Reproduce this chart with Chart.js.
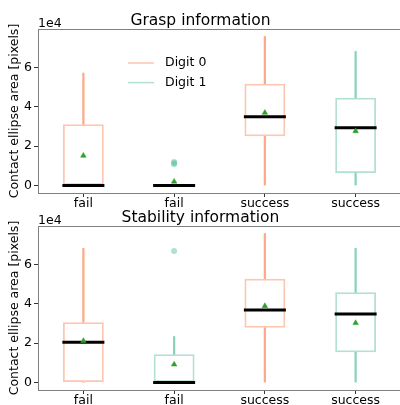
<!DOCTYPE html>
<html>
<head>
<meta charset="utf-8">
<script src="https://cdn.jsdelivr.net/npm/chart.js@4"></script>
<style>
  html, body { margin: 0; padding: 0; background: #fff; overflow: hidden; }
  #wrap { position: relative; width: 400px; height: 405px; overflow: hidden; }
  canvas { position: absolute; left: 0; }
  #grasp { top: 0; }
  #stability { top: 200px; }
</style>
</head>
<body>
<div id="wrap">
  <canvas id="grasp" width="410" height="210"></canvas>
  <canvas id="stability" width="410" height="205"></canvas>
</div>
<script>
const categories = ['fail', 'fail', 'success', 'success'];
const digitOfBox = [0, 1, 0, 1];
const legendLabels = ['Digit 0', 'Digit 1'];
const yTickValues = [0, 20000, 40000, 60000];
const yTickLabels = ['0', '2', '4', '6'];

// Grasp information
const graspLow = [0, 0, 0, 0];
const graspQ1 = [0, 0, 25000, 6300];
const graspMedian = [0, 0, 35000, 29400];
const graspQ3 = [31200, 0, 51800, 44600];
const graspHigh = [57200, 0, 75800, 68200];
const graspMean = [15200, 2000, 37000, 27700];
const graspOutliers = [[], [10800, 11400, 12000], [], []];

// Stability information
const stabLow = [0, 0, 0, 0];
const stabQ1 = [0, 0, 27800, 15400];
const stabMedian = [20500, 0, 36900, 34900];
const stabQ3 = [30700, 14400, 52800, 45900];
const stabHigh = [68200, 23400, 75800, 68200];
const stabMean = [21200, 9200, 38900, 30300];
const stabOutliers = [[], [66900], [], []];

const boxColors = ['rgba(252,141,98,0.5)', 'rgba(102,194,165,0.5)'];
const whiskerColors = ['rgba(252,141,98,0.75)', 'rgba(102,194,165,0.75)'];
const outlierColors = ['rgba(252,141,98,0.5)', 'rgba(102,194,165,0.5)'];
const spineColor = '#808080';

Chart.defaults.font.family = "'DejaVu Sans', sans-serif";
Chart.defaults.font.size = 12.5;
Chart.defaults.color = '#000';

const framePlugin = {
  id: 'frame',
  afterDraw(chart, args, opts) {
    const { ctx, chartArea: a } = chart;
    ctx.save();
    ctx.strokeStyle = spineColor;
    ctx.lineWidth = 1;
    ctx.beginPath();
    ctx.moveTo(a.left, a.top + 0.5);
    ctx.lineTo(a.right, a.top + 0.5);
    ctx.stroke();
    // offset text for y axis
    ctx.fillStyle = '#000';
    ctx.font = "12.5px 'DejaVu Sans'";
    ctx.textAlign = 'left';
    ctx.textBaseline = 'alphabetic';
    ctx.fillText('1e4', a.left, a.top - 2);
    if (opts.legend) {
      ctx.textBaseline = 'middle';
      legendLabels.forEach((lab, i) => {
        const y = a.top + 34 + i * 19.6;
        ctx.strokeStyle = boxColors[i];
        ctx.lineWidth = 1.5;
        ctx.beginPath();
        ctx.moveTo(a.left + 90, y);
        ctx.lineTo(a.left + 116, y);
        ctx.stroke();
        ctx.fillText(lab, a.left + 127, y);
      });
    }
    ctx.restore();
  }
};

function makeChart(id, title, low, q1, med, q3, high, mean, outliers, opts) {
  const xs = categories.map((c, i) => i + 1);
  const top = Math.max(...high, ...outliers.flat());
  const bottom = Math.min(...low);
  const margin = (top - bottom) * 0.05;

  const outlierPts = [];
  const outlierCols = [];
  outliers.forEach((list, i) => list.forEach(v => {
    outlierPts.push({ x: xs[i], y: v });
    outlierCols.push(outlierColors[digitOfBox[i]]);
  }));

  return new Chart(document.getElementById(id), {
    type: 'bar',
    data: {
      datasets: [
        {
          type: 'line', label: 'mean', showLine: false,
          data: xs.map((x, i) => ({ x, y: mean[i] })),
          pointStyle: 'triangle', pointRadius: 3.2,
          pointBackgroundColor: '#2ca02c', pointBorderColor: '#2ca02c', pointBorderWidth: 0.5
        },
        {
          type: 'line', label: 'median', showLine: false,
          data: xs.map((x, i) => ({ x, y: med[i] })),
          pointStyle: 'line', pointRadius: 21,
          pointBorderColor: '#000', pointBorderWidth: 3
        },
        {
          type: 'line', label: 'outliers', showLine: false,
          data: outlierPts,
          pointStyle: 'circle', pointRadius: 3,
          pointBackgroundColor: outlierCols, pointBorderWidth: 0
        },
        {
          label: 'box', grouped: false,
          data: xs.map((x, i) => ({ x, y: [q1[i], q3[i]] })),
          backgroundColor: 'rgba(0,0,0,0)',
          borderColor: xs.map((x, i) => boxColors[digitOfBox[i]]),
          borderWidth: 1.8, borderSkipped: false,
          barPercentage: 0.45, categoryPercentage: 1
        },
        {
          label: 'upper whisker', grouped: false,
          data: xs.map((x, i) => ({ x, y: [q3[i], high[i]] })),
          backgroundColor: xs.map((x, i) => whiskerColors[digitOfBox[i]]),
          barThickness: 1.6
        },
        {
          label: 'lower whisker', grouped: false,
          data: xs.map((x, i) => ({ x, y: [low[i], q1[i]] })),
          backgroundColor: xs.map((x, i) => whiskerColors[digitOfBox[i]]),
          barThickness: 1.6
        }
      ]
    },
    options: {
      responsive: false,
      animation: false,
      devicePixelRatio: 1,
      events: [],
      layout: { autoPadding: false, padding: { left: 0, right: 9, top: 0, bottom: 0 } },
      plugins: {
        legend: { display: false },
        tooltip: { enabled: false },
        title: {
          display: true, text: title, color: '#000',
          font: { size: 15.5, weight: 'normal', lineHeight: 1 },
          padding: { top: opts.titleTop, bottom: 0 }
        },
        frame: { legend: opts.legend }
      },
      scales: {
        x: {
          type: 'linear', min: 0.5, max: 4.5, offset: false,
          afterBuildTicks: s => { s.ticks = xs.map(v => ({ value: v })); },
          afterFit: s => { s.height = opts.xHeight; },
          ticks: {
            callback: v => categories[v - 1],
            autoSkip: false, maxRotation: 0, padding: 0, color: '#000',
            font: { size: 12.5, lineHeight: 1 }
          },
          grid: { display: true, offset: false, drawOnChartArea: false, tickLength: 4, color: '#333' },
          border: { display: true, color: spineColor }
        },
        y: {
          min: bottom - margin, max: top + margin,
          afterBuildTicks: s => { s.ticks = yTickValues.map(v => ({ value: v })); },
          afterFit: s => { s.width = 38; },
          ticks: { callback: (v, i) => yTickLabels[i], padding: 2, color: '#000' },
          grid: { display: true, drawOnChartArea: false, tickLength: 4, color: '#333' },
          border: { display: true, color: spineColor },
          title: {
            display: true, text: 'Contact ellipse area [pixels]', color: '#000',
            font: { size: 12.5 }, padding: { top: 7.5, bottom: 0 }
          }
        }
      }
    },
    plugins: [framePlugin]
  });
}

makeChart('grasp', 'Grasp information', graspLow, graspQ1, graspMedian, graspQ3, graspHigh, graspMean, graspOutliers,
  { titleTop: 13.5, xHeight: 17, legend: true });
makeChart('stability', 'Stability information', stabLow, stabQ1, stabMedian, stabQ3, stabHigh, stabMean, stabOutliers,
  { titleTop: 10.5, xHeight: 15, legend: false });
</script>
</body>
</html>
